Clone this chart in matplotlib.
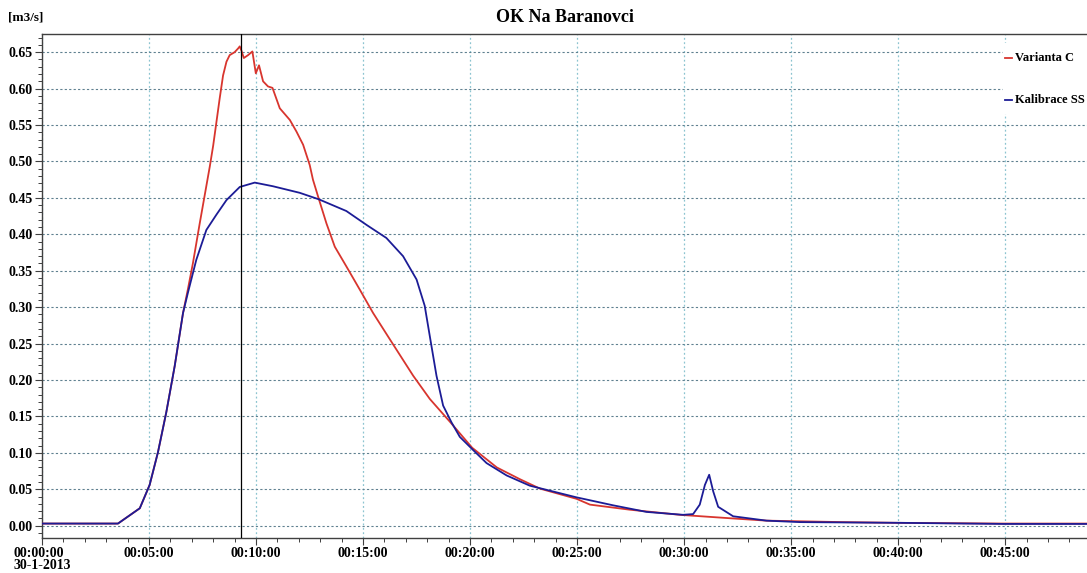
import numpy as np
import matplotlib.pyplot as plt
from matplotlib.ticker import MultipleLocator, FuncFormatter

# cas v minutach od 00:00:00, prutok v m3/s
t_var = [0, 3.55, 4.57, 5.03, 5.42, 5.81, 6.2, 6.59, 6.82, 7.05, 7.37, 7.84, 8.0, 8.3,
         8.46, 8.62, 8.77, 9.0, 9.16, 9.24, 9.32, 9.43, 9.63, 9.83, 9.99, 10.14, 10.33,
         10.56, 10.77, 11.11, 11.58, 11.89, 12.2, 12.51, 12.66, 12.94, 13.29, 13.68,
         14.22, 14.85, 15.47, 16.25, 17.34, 18.12, 19.08, 20.1, 21.25, 22.32, 23.26,
         24.97, 25.6, 27.47, 29.8, 32.29, 33.85, 37.36, 40.0, 44.9, 48.82]
q_var = [0.003, 0.003, 0.024, 0.056, 0.101, 0.156, 0.219, 0.292, 0.325, 0.36, 0.415,
         0.493, 0.522, 0.586, 0.618, 0.637, 0.646, 0.650, 0.655, 0.658, 0.652, 0.642,
         0.646, 0.651, 0.621, 0.632, 0.610, 0.603, 0.601, 0.573, 0.557, 0.541, 0.523,
         0.495, 0.475, 0.448, 0.415, 0.383, 0.356, 0.324, 0.292, 0.256, 0.206, 0.174,
         0.142, 0.107, 0.080, 0.064, 0.051, 0.037, 0.029, 0.022, 0.015, 0.010, 0.007,
         0.005, 0.004, 0.003, 0.003]

t_kal = [0, 3.55, 4.57, 5.03, 5.42, 5.81, 6.2, 6.59, 6.82, 7.21, 7.68, 8.15, 8.62,
         9.24, 9.94, 10.79, 12.04, 12.94, 14.22, 15.16, 16.09, 16.87, 17.5, 17.88,
         18.12, 18.43, 18.74, 19.13, 19.52, 20.14, 20.77, 21.71, 22.79, 24.97, 26.69,
         28.24, 29.95, 30.42, 30.73, 30.97, 31.17, 31.36, 31.59, 32.29, 33.85, 35.4,
         40.07, 44.9, 48.82]
q_kal = [0.003, 0.003, 0.024, 0.056, 0.101, 0.156, 0.219, 0.292, 0.320, 0.365, 0.406,
         0.427, 0.447, 0.465, 0.471, 0.466, 0.457, 0.448, 0.432, 0.413, 0.395, 0.370,
         0.338, 0.302, 0.260, 0.206, 0.165, 0.142, 0.122, 0.104, 0.086, 0.069, 0.055,
         0.039, 0.028, 0.019, 0.015, 0.016, 0.029, 0.056, 0.070, 0.047, 0.026, 0.013,
         0.007, 0.005, 0.004, 0.0025, 0.0025]

t_kurzor = 9.3

plt.rcParams['font.family'] = ['Liberation Serif', 'DejaVu Serif']
plt.rcParams['font.weight'] = 'bold'

fig = plt.figure(figsize=(10.87, 5.73), dpi=100)
ax = fig.add_axes([0.0386, 0.0611, 0.9614, 0.8796])

ax.set_xlim(0, 48.82)
ax.set_ylim(-0.0168, 0.675)

ax.xaxis.set_major_locator(MultipleLocator(5))
ax.xaxis.set_minor_locator(MultipleLocator(1))
ax.yaxis.set_major_locator(MultipleLocator(0.05))
ax.yaxis.set_minor_locator(MultipleLocator(0.01))


def fmt_cas(x, pos):
    m = int(round(x))
    s = '00:%02d:00' % m
    if m == 0:
        s += '\n30-1-2013'
    return s


ax.xaxis.set_major_formatter(FuncFormatter(fmt_cas))
ax.yaxis.set_major_formatter(FuncFormatter(lambda v, p: '%.2f' % v))

ax.grid(axis='y', which='major', linestyle=(0, (2, 2)), color='#5f8090', linewidth=0.8)
ax.grid(axis='x', which='major', linestyle=(0, (1.5, 2)), color='#8cc4d0', linewidth=0.9)
ax.set_axisbelow(True)

ax.tick_params(axis='both', which='major', labelsize=10, length=5, width=0.8,
               color='#404040', pad=1.5)
ax.tick_params(axis='both', which='minor', length=3, width=0.7, color='#404040')
for lab in ax.get_xticklabels():
    lab.set_multialignment('left')
    lab.set_linespacing(0.9)

for side in ['top', 'left', 'bottom']:
    ax.spines[side].set_color('#404040')
    ax.spines[side].set_linewidth(1.0)
ax.spines['right'].set_visible(False)

ax.plot(t_var, q_var, color='#d8352e', linewidth=1.3, zorder=3)
ax.plot(t_kal, q_kal, color='#1c1c96', linewidth=1.3, zorder=4)
ax.axvline(t_kurzor, color='black', linewidth=0.9, zorder=5)

# popisky serii vpravo nahore
ax.fill_between([44.9, 48.82], 0.566, 0.662, color='white', zorder=6)
ax.plot([45.0, 45.3], [0.642, 0.642], color='#d8352e', linewidth=1.3, zorder=7)
ax.text(45.45, 0.642, 'Varianta C', fontsize=9, fontweight='bold', va='center', zorder=7)
ax.plot([45.0, 45.3], [0.584, 0.584], color='#1c1c96', linewidth=1.3, zorder=7)
ax.text(45.45, 0.584, 'Kalibrace SS', fontsize=9, fontweight='bold', va='center', zorder=7)

fig.text(0.52, 0.97, 'OK Na Baranovci', ha='center', va='center', fontsize=13,
         fontweight='bold')
fig.text(0.007, 0.97, '[m3/s]', ha='left', va='center', fontsize=9.5, fontweight='bold')

fig.savefig('out.png', dpi=100)
